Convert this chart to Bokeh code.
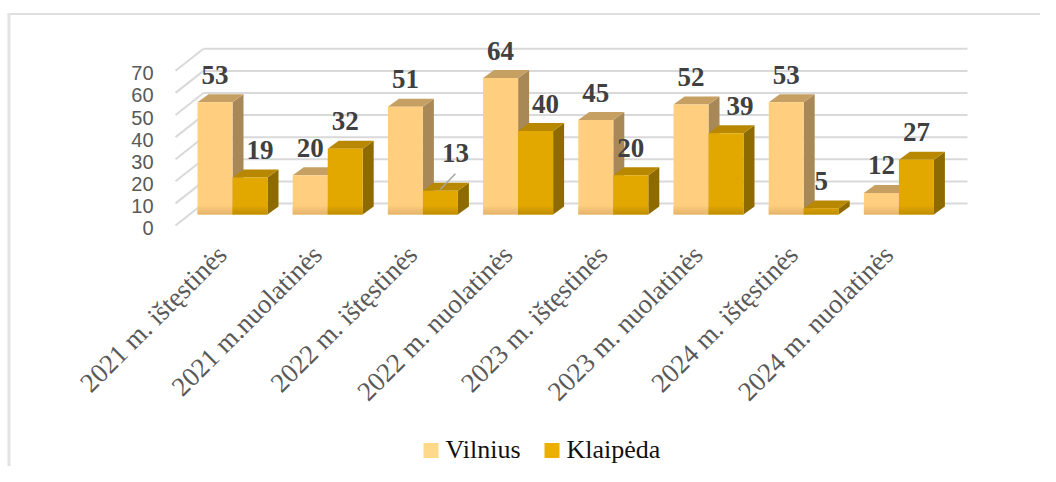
import math
from bokeh.plotting import figure
from bokeh.models import Range1d
from bokeh.core.properties import value
from bokeh.embed import file_html
from bokeh.resources import INLINE

# ---------------- data ----------------
categories = ["2021 m. ištęstinės", "2021 m.nuolatinės", "2022 m. ištęstinės",
              "2022 m. nuolatinės", "2023 m. ištęstinės", "2023 m. nuolatinės",
              "2024 m. ištęstinės", "2024 m. nuolatinės"]
vilnius = [53, 20, 51, 64, 45, 52, 53, 12]
klaipeda = [19, 32, 13, 40, 20, 39, 5, 27]
y_ticks = [0, 10, 20, 30, 40, 50, 60, 70]
series_names = ["Vilnius", "Klaipėda"]

# ---------------- layout / style ----------------
W, H = 1040, 466
OFF = 0                   # page px of the canvas origin
X0, SX = 189.0, 95.2      # page px of category 0 start, px per category
Y0, SY = 219.0, 2.21      # page px of value 0 (bar front plane), px per unit

def dx(px): return px / SX
def dy(px): return px / SY
def xp(X): return (X - X0) / SX
def yp(Y): return (Y0 - Y) / SY

V_COL = dict(front="#FFCF7F", top="#C69F63", side="#A98858", shade="#E2B46C", legend="#FFD98A")
K_COL = dict(front="#E3A800", top="#B78800", side="#8E6B00", shade="#C08D00", legend="#EDB000")
GRID = "#D9D9D9"
AXIS_TXT = "#595959"
LABEL_TXT = "#404040"
SERIF = value("Liberation Serif")
SANS = value("Liberation Sans")

BAR_OFF = dx(8)
BW = dx(35)
DX = dx(11)
DYD = dy(8)
BASE = dy(5)
label_nudge = {("K", 0): (10, 0), ("K", 2): (15, 10), ("K", 3): (10, 0), ("K", 5): (14, 0)}

p = figure(width=W, height=H, x_range=Range1d(xp(OFF), xp(OFF + W)),
           y_range=Range1d(yp(OFF + H), yp(OFF)), output_backend="svg",
           toolbar_location=None, min_border=0,
           x_axis_location=None, y_axis_location=None)
p.grid.visible = False
p.outline_line_color = None

# chart frame lines (top + left)
p.segment(x0=[xp(7)], y0=[yp(13.5)], x1=[xp(1056)], y1=[yp(13.5)], line_color="#D4D4D4", line_width=1.5)
p.segment(x0=[xp(8.5)], y0=[yp(13)], x1=[xp(8.5)], y1=[yp(480)], line_color="#E3E3E3", line_width=3)

# back wall gridlines + side wall diagonals
BACK_DY = dy(16)
bx0, bx1, fx = xp(203), xp(967), xp(175)
p.segment(x0=[bx0] * len(y_ticks), y0=[t + BACK_DY for t in y_ticks],
          x1=[bx1] * len(y_ticks), y1=[t + BACK_DY for t in y_ticks],
          line_color=GRID, line_width=2)
p.segment(x0=[bx0] * len(y_ticks), y0=[t + BACK_DY for t in y_ticks],
          x1=[fx] * len(y_ticks), y1=[t + BACK_DY - dy(22) for t in y_ticks],
          line_color=GRID, line_width=2)

# y tick labels (front plane)
p.text(x=[xp(153)] * len(y_ticks), y=[t - dy(8.5) for t in y_ticks],
       text=[str(t) for t in y_ticks], text_align="right", text_baseline="middle",
       text_font=SANS, text_font_size="20px", text_color=AXIS_TXT)


def draw_series(vals, offset, col):
    n = len(vals)
    lefts = [i + BAR_OFF + offset for i in range(n)]
    rights = [l + BW for l in lefts]
    # side faces
    p.patches(xs=[[r, r, r + DX, r + DX] for r in rights],
              ys=[[BASE, v, v + DYD, BASE + DYD] for v in vals],
              fill_color=col["side"], line_color=None)
    # top faces
    p.patches(xs=[[l, r, r + DX, l + DX] for l, r in zip(lefts, rights)],
              ys=[[v, v, v + DYD, v + DYD] for v in vals],
              fill_color=col["top"], line_color=None)
    # front faces
    p.quad(left=lefts, right=rights, bottom=[BASE] * n, top=vals,
           fill_color=col["front"], line_color=None)
    # bevel shading near the bottom
    steps = 4
    for k in range(steps):
        a = (k + 1) / steps
        c1 = tuple(int(col["front"][j:j + 2], 16) for j in (1, 3, 5))
        c2 = tuple(int(col["shade"][j:j + 2], 16) for j in (1, 3, 5))
        c = "#%02X%02X%02X" % tuple(int(c1[m] + (c2[m] - c1[m]) * a) for m in range(3))
        b = BASE + dy(2) * (steps - 1 - k)
        p.quad(left=lefts, right=rights, bottom=[b] * n, top=[min(v, b + dy(2)) for v in vals],
               fill_color=c, line_color=None)
    return lefts


v_lefts = draw_series(vilnius, 0.0, V_COL)
k_lefts = draw_series(klaipeda, BW, K_COL)

# data labels (baseline ~10px above the back edge of the bar top, drawn by middle)
for key, vals, lefts in (("V", vilnius, v_lefts), ("K", klaipeda, k_lefts)):
    xs, ys = [], []
    for i, (v, l) in enumerate(zip(vals, lefts)):
        nx, ny = label_nudge.get((key, i), (0, 0))
        xs.append(l + BW / 2 + dx(nx))
        ys.append(v + DYD + dy(10.5) + dy(9) + dy(ny))
    p.text(x=xs, y=ys, text=[str(v) for v in vals], text_align="center",
           text_baseline="middle", text_font=SERIF, text_font_size="27px",
           text_font_style="bold", text_color=LABEL_TXT)

# leader line for the lifted label
for (key, i), (nx, ny) in label_nudge.items():
    if ny > 0:
        vals = klaipeda if key == "K" else vilnius
        lefts = k_lefts if key == "K" else v_lefts
        cx = lefts[i] + BW / 2
        p.segment(x0=[cx], y0=[vals[i] + dy(1.5)], x1=[cx + dx(nx)], y1=[vals[i] + dy(17)],
                  line_color="#A6A6A6", line_width=1.5)

# category labels
p.text(x=[i + BAR_OFF + BW - dx(21) for i in range(len(categories))],
       y=[yp(239)] * len(categories), text=categories, angle=math.pi / 4,
       text_align="right", text_baseline="top", text_font=SERIF,
       text_font_size="27px", text_color=AXIS_TXT)

# legend
p.scatter(x=[xp(430.5), xp(551.5)], y=[yp(450), yp(450)], marker="square", size=15,
          fill_color=[V_COL["legend"], K_COL["legend"]], line_color=None)
p.text(x=[xp(445), xp(566)], y=[yp(448.5), yp(448.5)], text=series_names,
       text_align="left", text_baseline="middle", text_font=SERIF,
       text_font_size="26px", text_color="#111111")

open("out.html", "w").write(file_html(p, INLINE))
